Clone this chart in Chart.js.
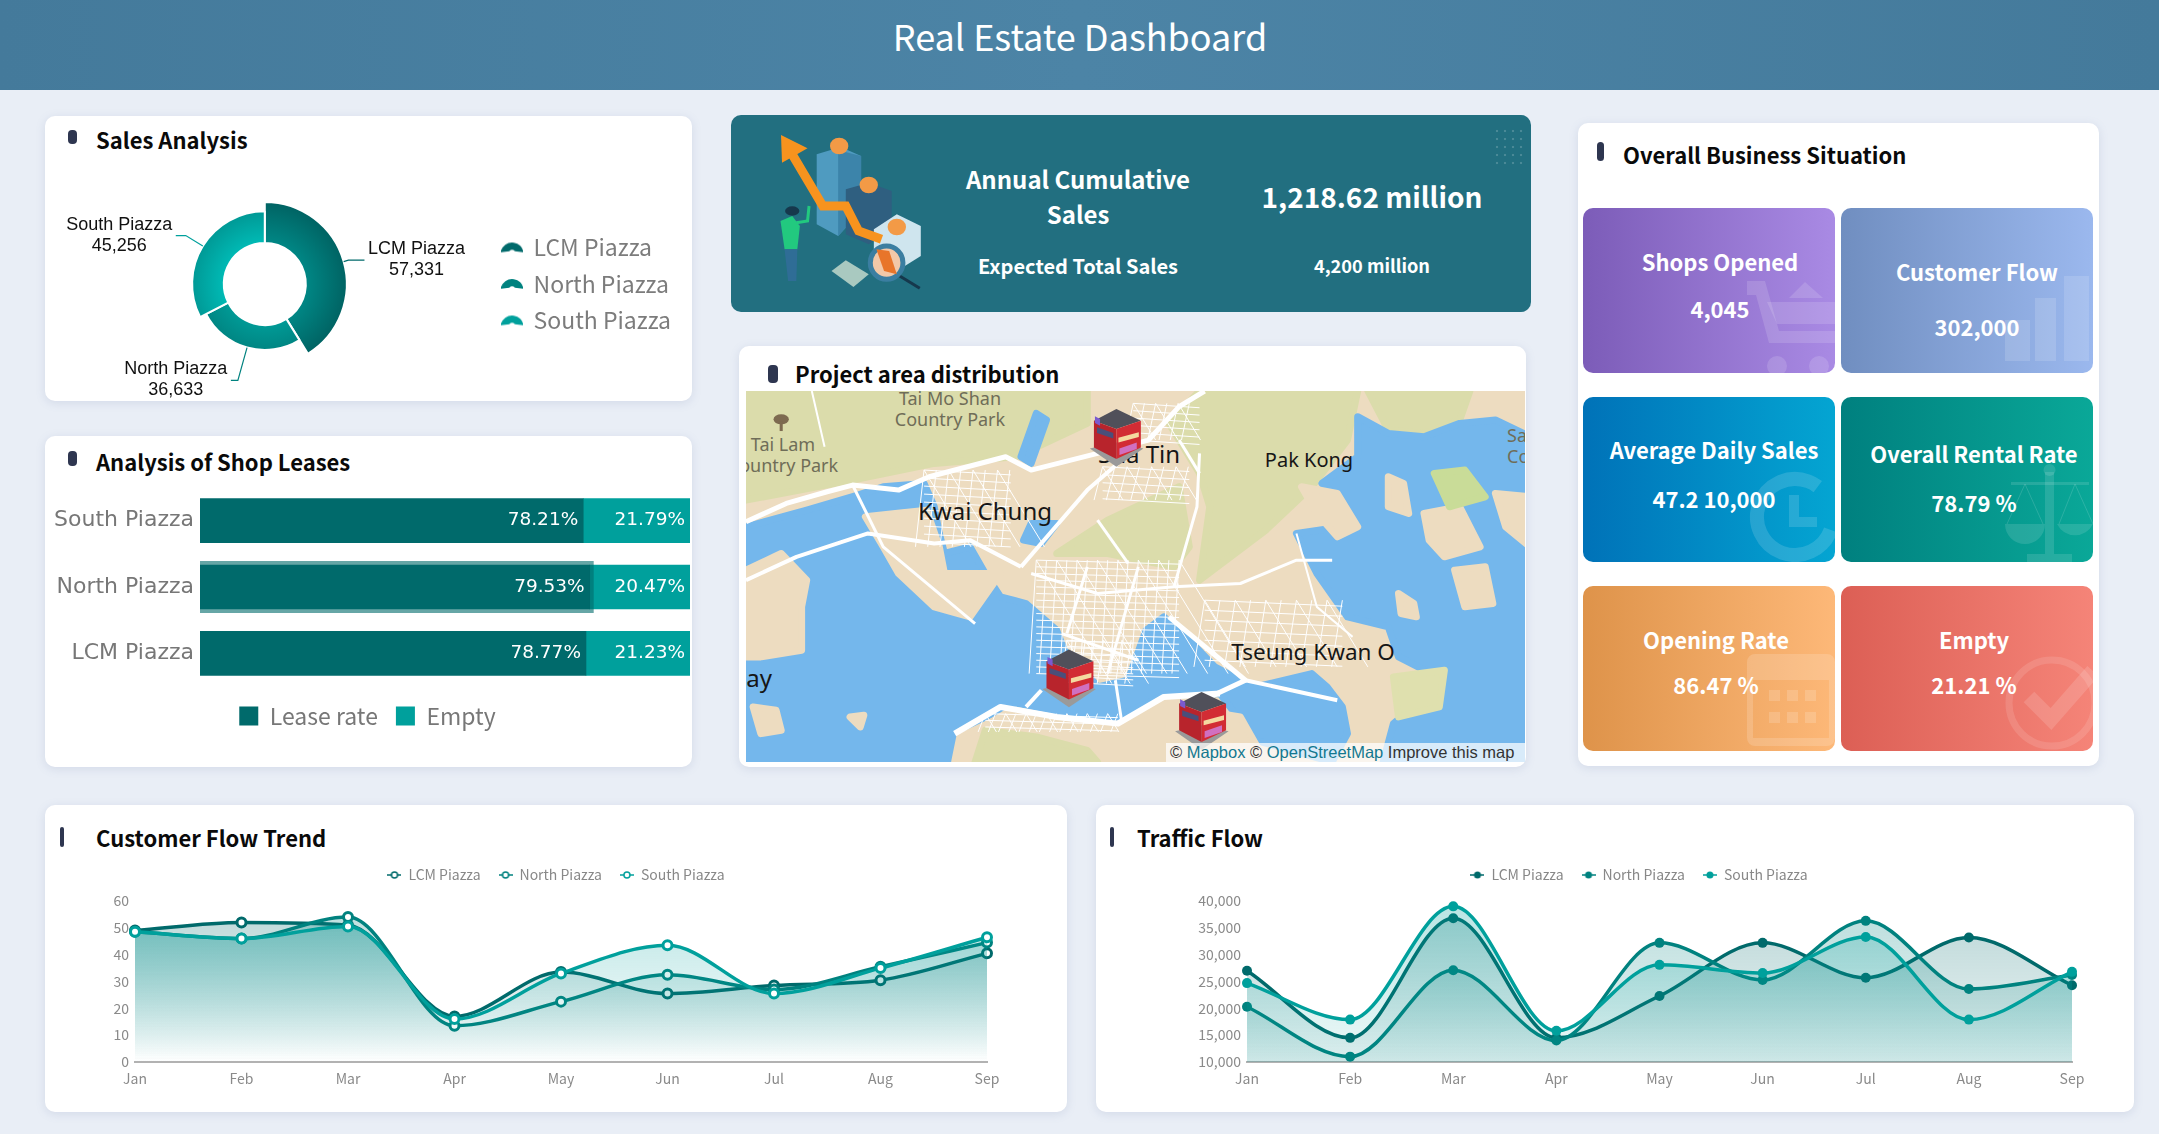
<!DOCTYPE html>
<html>
<head>
<meta charset="utf-8">
<title>Real Estate Dashboard</title>
<script src="https://cdn.jsdelivr.net/npm/chart.js@4"></script>
<style>
html, body { margin: 0; padding: 0; }
body { width: 2159px; height: 1134px; overflow: hidden; position: relative; background: #e9eef6; font-family: "Noto Sans CJK SC", "Noto Sans", sans-serif; }
.header { position: absolute; left: 0; top: 0; width: 2159px; height: 90px; background: linear-gradient(90deg, #447a9b, #4c84a6 50%, #447a9b); }
.card { position: absolute; background: #fff; border-radius: 10px; box-shadow: 0 2px 10px rgba(110,130,170,.18); }
.abs { position: absolute; }
.c { position: absolute; transform: translate(-50%, -50%); white-space: nowrap; }
.t { position: absolute; transform: translateY(-50%); white-space: nowrap; font-weight: 700; font-size: 22px; color: #0a0a0a; }
.bullet { position: absolute; background: #2e3650; border-radius: 4px; }
.banner { position: absolute; left: 731px; top: 115px; width: 800px; height: 197px; background: #226f80; border-radius: 10px; overflow: hidden; }
.dots { position: absolute; right: 6px; top: 12px; width: 32px; height: 40px; background-image: radial-gradient(rgba(255,255,255,.18) 1px, transparent 1.6px); background-size: 8px 8px; }
.w { color: #fff; font-weight: 700; }
.tile { position: absolute; width: 252px; height: 165px; border-radius: 10px; overflow: hidden; }
.tile svg { position: absolute; }
.map { position: absolute; left: 746px; top: 391px; width: 779px; height: 371px; overflow: hidden; background: #74b7ec; }
.map svg { position: absolute; left: 0; top: 0; width: 779px; height: 371px; }
.map .c { font-family: "Noto Sans", sans-serif; color: #161616; }
.park { color: #6f6d58 !important; font-size: 18px; }
.attrib { position: absolute; right: 0; bottom: 0; width: 359px; height: 19px; background: rgba(255,255,255,.72); font: 16.5px/19px "Liberation Sans", sans-serif; color: #333; white-space: nowrap; padding-left: 4px; box-sizing: border-box; }
.attrib span { color: #13788f; }
canvas { position: absolute; }
</style>
</head>
<body>
<div class="header"></div>
<div class="c" style="left:1080px;top:35px;font-size:36px;color:#fff;">Real Estate Dashboard</div>

<!-- sales -->
<div class="card" style="left:45px;top:116px;width:647px;height:285px;"></div>
<div class="bullet" style="left:68px;top:130px;width:9px;height:14px;"></div>
<div class="t" style="left:96px;top:139px;">Sales Analysis</div>
<canvas id="salesChart" width="647" height="285" style="left:41px;top:116px;"></canvas>

<!-- leases -->
<div class="card" style="left:45px;top:436px;width:647px;height:331px;"></div>
<div class="bullet" style="left:68px;top:451px;width:9px;height:15px;"></div>
<div class="t" style="left:96px;top:461px;">Analysis of Shop Leases</div>
<canvas id="leaseChart" width="647" height="331" style="left:45px;top:436px;"></canvas>

<!-- annual sales -->
<div class="banner">
  <svg class="abs" style="left:0;top:0;width:800px;height:197px;" viewBox="0 12 1568 591" preserveAspectRatio="none">
    <polygon points="168,130 215,108 255,135 255,300 210,375 168,340" fill="#4f9bc0"/>
    <polygon points="210,118 255,135 255,300 210,375" fill="#3c84aa"/>
    <polygon points="225,235 270,215 315,240 315,350 270,400 225,370" fill="#2f5f80"/>
    <polygon points="280,355 325,310 372,345 372,435 325,480 280,440" fill="#cfe5ee"/>
    <ellipse cx="212" cy="105" rx="18" ry="25" fill="#f39a46"/>
    <ellipse cx="270" cy="222" rx="18" ry="25" fill="#f39a46"/>
    <ellipse cx="325" cy="348" rx="18" ry="25" fill="#f39a46"/>
    <polyline points="120,130 180,285 225,285 250,360 295,385" fill="none" stroke="#f7931e" stroke-width="9" vector-effect="non-scaling-stroke"/>
    <polygon points="98,72 150,112 100,155" fill="#f7931e"/>
    <polygon points="97,330 120,315 135,345 130,415 105,415" fill="#22c97f"/>
    <polyline points="128,335 150,330 153,285" fill="none" stroke="#22c97f" stroke-width="3" vector-effect="non-scaling-stroke"/>
    <circle cx="120" cy="300" r="14" fill="#16384c"/>
    <polygon points="105,415 130,415 128,510 112,510" fill="#2f6d96"/>
    <polygon points="197,480 225,448 270,490 240,528" fill="#a9c9c0"/>
    <line x1="325" y1="490" x2="370" y2="532" stroke="#16384c" stroke-width="3" vector-effect="non-scaling-stroke"/>
    <ellipse cx="305" cy="455" rx="32" ry="50" fill="#f2c8a8" stroke="#3b7ea1" stroke-width="5" vector-effect="non-scaling-stroke"/>
    <polygon points="285,415 310,420 325,490 300,480" fill="#e8752a"/>
  </svg>
  <div class="dots"></div>
  <div class="c w" style="left:347px;top:63px;font-size:24px;">Annual Cumulative</div>
  <div class="c w" style="left:347px;top:98px;font-size:24px;">Sales</div>
  <div class="c w" style="left:347px;top:150px;font-size:20px;">Expected Total Sales</div>
  <div class="c w" style="left:641px;top:81px;font-size:28px;">1,218.62 million</div>
  <div class="c w" style="left:641px;top:150px;font-size:18.2px;">4,200 million</div>
</div>

<!-- map -->
<div class="card" style="left:739px;top:346px;width:787px;height:421px;"></div>
<div class="bullet" style="left:768px;top:365px;width:10px;height:18px;"></div>
<div class="t" style="left:795px;top:373px;">Project area distribution</div>
<div class="map">
  <svg id="mapBase" viewBox="31 153 1527 1112" preserveAspectRatio="none"></svg>
  <div class="c park" style="left:204px;top:7px;">Tai Mo Shan</div>
  <div class="c park" style="left:204px;top:28px;">Country Park</div>
  <div class="c park" style="left:37px;top:53px;">Tai Lam</div>
  <div class="c park" style="left:37px;top:74px;">Country Park</div>
  <div class="c" style="left:239px;top:119px;font-size:24px;">Kwai Chung</div>
  <div class="c" style="left:393px;top:62px;font-size:24px;">Sha Tin</div>
  <div class="c" style="left:563px;top:68px;font-size:20px;">Pak Kong</div>
  <div class="c" style="left:567px;top:260px;font-size:22.5px;">Tseung Kwan O</div>
  <div class="abs" style="right:753px;top:270px;font-size:24px;line-height:34px;font-family:'Noto Sans';color:#161616;">Bay</div>
  <div class="abs park" style="left:761px;top:34px;line-height:21px;font-family:'Noto Sans';">Sai<br>Co</div>
  <svg id="mapIcons" viewBox="31 153 1527 1112" preserveAspectRatio="none"></svg>
  <div class="attrib">© <span>Mapbox</span> © <span>OpenStreetMap</span> Improve this map</div>
</div>

<!-- business situation -->
<div class="card" style="left:1578px;top:123px;width:521px;height:643px;"></div>
<div class="bullet" style="left:1597px;top:142px;width:7px;height:19px;"></div>
<div class="t" style="left:1623px;top:154px;">Overall Business Situation</div>

<div class="tile" style="left:1583px;top:208px;background:linear-gradient(90deg,#7c5cb8,#a98ae4);">
  <svg style="right:0;bottom:0;" width="88" height="95" viewBox="0 0 88 95" fill="rgba(255,255,255,.14)">
    <path d="M0 3h18l14 50h56v12H22L9 17H0z"/><polygon points="20,24 88,24 88,46 30,46"/><polygon points="42,20 58,4 76,20"/><circle cx="30" cy="88" r="10"/><circle cx="72" cy="88" r="10"/>
  </svg>
</div>
<div class="c w" style="left:1720px;top:261px;font-size:22px;">Shops Opened</div>
<div class="c w" style="left:1720px;top:308px;font-size:22px;">4,045</div>

<div class="tile" style="left:1841px;top:208px;background:linear-gradient(90deg,#708ec0,#9bb8ee);">
  <svg style="right:4px;bottom:12px;" width="84" height="85" viewBox="0 0 84 85" fill="rgba(255,255,255,.14)">
    <rect x="0" y="44" width="25" height="41"/><rect x="30" y="22" width="21" height="63"/><rect x="59" y="0" width="25" height="85"/>
  </svg>
</div>
<div class="c w" style="left:1977px;top:271px;font-size:22px;">Customer Flow</div>
<div class="c w" style="left:1977px;top:326px;font-size:22px;">302,000</div>

<div class="tile" style="left:1583px;top:397px;background:linear-gradient(90deg,#0072b8,#04a5d2);">
  <svg style="right:0;bottom:0;" width="88" height="95" viewBox="0 0 88 95">
    <circle cx="48" cy="50" r="38" fill="none" stroke="rgba(255,255,255,.14)" stroke-width="14" stroke-dasharray="190 50" transform="rotate(20 48 50)"/>
    <path d="M42 28h10v22h18v10H42z" fill="rgba(255,255,255,.14)"/>
  </svg>
</div>
<div class="c w" style="left:1714px;top:449px;font-size:22px;">Average Daily Sales</div>
<div class="c w" style="left:1714px;top:498px;font-size:22px;">47.2 10,000</div>

<div class="tile" style="left:1841px;top:397px;background:linear-gradient(90deg,#00807f,#0aa898);">
  <svg style="right:0;bottom:0;" width="88" height="98" viewBox="0 0 88 98" fill="rgba(255,255,255,.12)">
    <rect x="40" y="8" width="9" height="82"/><circle cx="44.500" cy="6" r="6"/><rect x="6" y="18" width="78" height="3"/><rect x="22" y="90" width="45" height="8"/>
    <path d="M0 60a20 20 0 0 0 40 0zM52 60a20 20 0 0 0 36 0z"/>
    <path d="M20 20L2 60M20 20L38 60M70 20L54 60M70 20L88 60" stroke="rgba(255,255,255,.14)" fill="none"/>
  </svg>
</div>
<div class="c w" style="left:1974px;top:453px;font-size:22px;">Overall Rental Rate</div>
<div class="c w" style="left:1974px;top:502px;font-size:22px;">78.79 %</div>

<div class="tile" style="left:1583px;top:586px;background:linear-gradient(90deg,#de934a,#fdb878);">
  <svg style="right:0;bottom:5px;" width="88" height="92" viewBox="0 0 88 92" fill="rgba(255,255,255,.16)">
    <path d="M8 0h72a8 8 0 0 1 8 8v76a8 8 0 0 1-8 8H8a8 8 0 0 1-8-8V8a8 8 0 0 1 8-8zM6 26v58h76V26z" fill-rule="evenodd"/>
    <rect x="22" y="36" width="11" height="11"/><rect x="40" y="36" width="11" height="11"/><rect x="58" y="36" width="11" height="11"/><rect x="22" y="58" width="11" height="11"/><rect x="40" y="58" width="11" height="11"/><rect x="58" y="58" width="11" height="11"/>
  </svg>
</div>
<div class="c w" style="left:1716px;top:639px;font-size:22px;">Opening Rate</div>
<div class="c w" style="left:1716px;top:684px;font-size:22px;">86.47 %</div>

<div class="tile" style="left:1841px;top:586px;background:linear-gradient(90deg,#dc5f55,#f58478);">
  <svg style="right:0;bottom:0;" width="88" height="98" viewBox="0 0 88 98">
    <circle cx="47" cy="50" r="43" fill="none" stroke="rgba(255,255,255,.12)" stroke-width="7"/>
    <polyline points="24,44 46,66 88,18" fill="none" stroke="rgba(255,255,255,.14)" stroke-width="15"/>
  </svg>
</div>
<div class="c w" style="left:1974px;top:639px;font-size:22px;">Empty</div>
<div class="c w" style="left:1974px;top:684px;font-size:22px;">21.21 %</div>

<!-- trends -->
<div class="card" style="left:45px;top:805px;width:1022px;height:307px;"></div>
<div class="bullet" style="left:60px;top:827px;width:4px;height:20px;border-radius:2px;"></div>
<div class="t" style="left:96px;top:837px;">Customer Flow Trend</div>
<canvas id="customerChart" width="1022" height="308" style="left:45px;top:804px;"></canvas>

<div class="card" style="left:1096px;top:805px;width:1038px;height:307px;"></div>
<div class="bullet" style="left:1110px;top:827px;width:4px;height:20px;border-radius:2px;"></div>
<div class="t" style="left:1137px;top:837px;">Traffic Flow</div>
<canvas id="trafficChart" width="1038" height="308" style="left:1096px;top:804px;"></canvas>

<script>
const piazzas = ["LCM Piazza", "North Piazza", "South Piazza"];
const salesValues = [57331, 36633, 45256];

const leaseCategories = ["South Piazza", "North Piazza", "LCM Piazza"];
const leaseRate = [78.21, 79.53, 78.77];
const emptyRate = [21.79, 20.47, 21.23];

const months = ["Jan", "Feb", "Mar", "Apr", "May", "Jun", "Jul", "Aug", "Sep"];

const customerLcm = [49, 52, 51, 17, 33.5, 25.5, 28.5, 30.5, 40.5];
const customerNorth = [48.5, 46, 54, 13.5, 22.5, 32.5, 27, 35.5, 44.5];
const customerSouth = [48.5, 46, 50.5, 16, 33, 43.5, 25.5, 35, 46.5];

const trafficLcm = [27000, 14500, 36800, 14500, 22300, 32200, 25700, 33200, 24300];
const trafficNorth = [20300, 11000, 27100, 14000, 32200, 25300, 36300, 23600, 26200];
const trafficSouth = [24700, 17900, 39000, 15800, 28100, 26600, 33300, 17900, 26800];

const colors = ["#006a6b", "#00827f", "#00a09c"];
const uiFont = '"Noto Sans CJK SC", "Noto Sans", sans-serif';

Chart.defaults.animation = false;
Chart.defaults.responsive = false;
Chart.defaults.plugins.tooltip.enabled = false;

function rgba(hex, a) {
    let n = parseInt(hex.slice(1), 16);
    return "rgba(" + (n >> 16) + "," + ((n >> 8) & 255) + "," + (n & 255) + "," + a + ")";
}

function makeIcon(w, h, draw) {
    let c = document.createElement("canvas");
    c.width = w;
    c.height = h;
    draw(c.getContext("2d"));
    return c;
}

// fan shaped swatch for the donut legend
function fanIcon(color) {
    return makeIcon(22, 12, g => {
        g.fillStyle = color;
        g.beginPath();
        g.arc(11, 12.5, 11.5, Math.PI * 1.05, Math.PI * 1.95);
        g.arc(11, 12.5, 4, Math.PI * 1.75, Math.PI * 1.25, true);
        g.closePath();
        g.fill();
    });
}

// line with a dot through it, like the trend legends
function lineIcon(color, hollow) {
    return makeIcon(14, 10, g => {
        g.strokeStyle = color;
        g.lineWidth = 1.5;
        g.beginPath();
        g.moveTo(0, 5);
        g.lineTo(14, 5);
        g.stroke();
        g.beginPath();
        g.arc(7, 5, hollow ? 3 : 3.5, 0, Math.PI * 2);
        g.fillStyle = hollow ? "#fff" : color;
        g.fill();
        if (hollow) g.stroke();
    });
}

// Sales donut: radius follows the value, labels sit on leader lines
const salesMin = Math.min(...salesValues);
const salesMax = Math.max(...salesValues);
const leaderLengths = [5, 34, 20];
const elbowLengths = [16, 7, 10];
const donutColors = [["#008785", "#006363"], ["#009a96", "#007876"], ["#00bab5", "#008f8c"]];

const roseAndLabels = {
    id: "roseAndLabels",
    beforeDatasetsDraw(chart) {
        chart.getDatasetMeta(0).data.forEach((arc, i) => {
            arc.outerRadius = 66 + (salesValues[i] - salesMin) / (salesMax - salesMin) * 16;
        });
    },
    afterDatasetsDraw(chart) {
        let ctx = chart.ctx;
        chart.getDatasetMeta(0).data.forEach((arc, i) => {
            let mid = (arc.startAngle + arc.endAngle) / 2;
            let cos = Math.cos(mid), sin = Math.sin(mid);
            let x0 = arc.x + cos * arc.outerRadius, y0 = arc.y + sin * arc.outerRadius;
            let x1 = x0 + cos * leaderLengths[i], y1 = y0 + sin * leaderLengths[i];
            let dir = cos >= 0 ? 1 : -1;
            let x2 = x1 + dir * elbowLengths[i];
            ctx.save();
            ctx.strokeStyle = colors[i];
            ctx.lineWidth = 1.2;
            ctx.beginPath();
            ctx.moveTo(x0, y0);
            ctx.lineTo(x1, y1);
            ctx.lineTo(x2, y1);
            ctx.stroke();
            ctx.fillStyle = "#111";
            ctx.font = '18px "Liberation Sans"';
            ctx.textAlign = "center";
            ctx.textBaseline = "middle";
            let w = ctx.measureText(piazzas[i]).width;
            let cx = x2 + dir * (w / 2 + 3.5);
            ctx.fillText(piazzas[i], cx, y1 - 11);
            ctx.fillText(salesValues[i].toLocaleString("en-US"), cx, y1 + 10);
            ctx.restore();
        });
    }
};

new Chart(document.getElementById("salesChart"), {
    type: "doughnut",
    data: {
        labels: piazzas,
        datasets: [{
            data: salesValues,
            borderColor: "#fff",
            borderWidth: 2,
            backgroundColor(c) {
                let area = c.chart.chartArea;
                if (!area) return colors[c.dataIndex];
                let cx = (area.left + area.right) / 2, cy = (area.top + area.bottom) / 2;
                let g = c.chart.ctx.createRadialGradient(cx, cy, 41, cx, cy, 82);
                g.addColorStop(0, donutColors[c.dataIndex][0]);
                g.addColorStop(1, donutColors[c.dataIndex][1]);
                return g;
            }
        }]
    },
    options: {
        radius: 82,
        cutout: "50%",
        layout: { padding: { top: 51, right: 7 } },
        plugins: {
            legend: {
                position: "right",
                labels: {
                    color: "#7c7c7c",
                    font: { family: uiFont, size: 23 },
                    usePointStyle: true,
                    pointStyleWidth: 20,
                    padding: 13.5,
                    generateLabels(chart) {
                        let items = Chart.overrides.doughnut.plugins.legend.labels.generateLabels(chart);
                        items.forEach((it, i) => { it.pointStyle = fanIcon(colors[i]); });
                        return items;
                    }
                }
            }
        }
    },
    plugins: [roseAndLabels]
});

// Stacked lease bars
const barLabels = {
    id: "barLabels",
    afterDatasetsDraw(chart) {
        let ctx = chart.ctx;
        // the north bar keeps its highlighted outline
        let lit = chart.getDatasetMeta(0).data[1];
        ctx.save();
        ctx.strokeStyle = "rgba(0,106,107,.6)";
        ctx.lineWidth = 4;
        ctx.beginPath();
        ctx.moveTo(lit.base, lit.y - lit.height / 2 - 2);
        ctx.lineTo(lit.x + 2, lit.y - lit.height / 2 - 2);
        ctx.lineTo(lit.x + 2, lit.y + lit.height / 2 + 2);
        ctx.lineTo(lit.base, lit.y + lit.height / 2 + 2);
        ctx.stroke();
        ctx.fillStyle = "#fff";
        ctx.font = '18.5px "DejaVu Sans"';
        ctx.textAlign = "right";
        ctx.textBaseline = "middle";
        chart.data.datasets.forEach((ds, d) => {
            chart.getDatasetMeta(d).data.forEach((bar, i) => {
                ctx.fillText(ds.data[i].toFixed(2) + "%", bar.x - 5, bar.y);
            });
        });
        ctx.restore();
    }
};

new Chart(document.getElementById("leaseChart"), {
    type: "bar",
    data: {
        labels: leaseCategories,
        datasets: [
            { label: "Lease rate", data: leaseRate, backgroundColor: colors[0], barThickness: 44 },
            { label: "Empty", data: emptyRate, backgroundColor: colors[2], barThickness: 44 }
        ]
    },
    options: {
        indexAxis: "y",
        layout: { padding: { top: 51.5, right: 2, bottom: 29.5 } },
        scales: {
            x: { stacked: true, min: 0, max: 100, display: false },
            y: {
                stacked: true,
                grid: { display: false, drawTicks: false },
                border: { display: false },
                ticks: { color: "#777", font: { family: "DejaVu Sans", size: 22 }, padding: 6 },
                afterFit(scale) { scale.width = 155; scale.paddingTop = 0; scale.paddingBottom = 0; }
            }
        },
        plugins: {
            legend: {
                position: "bottom",
                labels: {
                    color: "#777",
                    font: { family: uiFont, size: 23 },
                    boxWidth: 19,
                    boxHeight: 19,
                    padding: 18
                }
            }
        }
    },
    plugins: [barLabels]
});

// Trend charts
const tallerLegend = {
    id: "tallerLegend",
    beforeInit(chart) {
        let fit = chart.legend.fit;
        chart.legend.fit = function () {
            fit.call(this);
            this.height += 9;
        };
    }
};

function trendChart(id, series, yOpts, hollow, layoutBox, tickFormat) {
    new Chart(document.getElementById(id), {
        type: "line",
        data: {
            labels: months,
            datasets: series.map((values, i) => ({
                label: piazzas[i],
                data: values,
                order: 3 - i,
                clip: false,
                fill: "origin",
                cubicInterpolationMode: "monotone",
                borderColor: colors[i],
                borderWidth: 3.5,
                pointRadius: hollow ? 4.5 : 5,
                pointBorderWidth: hollow ? 3 : 0,
                pointBackgroundColor: hollow ? "#fff" : colors[i],
                pointBorderColor: colors[i],
                backgroundColor(c) {
                    let area = c.chart.chartArea;
                    if (!area) return "transparent";
                    let h = area.bottom - area.top;
                    let g = c.chart.ctx.createLinearGradient(0, area.top, 0, area.bottom + h * yOpts.fadeBelow);
                    g.addColorStop(0, rgba(colors[i], 0.28));
                    g.addColorStop(1, rgba(colors[i], 0));
                    return g;
                }
            }))
        },
        options: {
            layout: { padding: { top: 46, left: layoutBox.left } },
            scales: {
                x: {
                    grid: { display: false, drawTicks: false },
                    border: { display: true, color: "#b2b2b2", width: 2 },
                    ticks: { color: "#8a8a8a", font: { family: uiFont, size: 14 }, padding: 8, maxRotation: 0 },
                    afterFit(scale) { scale.height = 50; scale.paddingLeft = 0; scale.paddingRight = layoutBox.right; }
                },
                y: {
                    min: yOpts.min,
                    max: yOpts.max,
                    grid: { display: false, drawTicks: false },
                    border: { display: false },
                    ticks: {
                        stepSize: yOpts.step,
                        color: "#8a8a8a",
                        font: { family: uiFont, size: 14 },
                        padding: 6,
                        callback: tickFormat
                    },
                    afterFit(scale) { scale.width = layoutBox.axis; scale.paddingTop = 0; scale.paddingBottom = 0; }
                }
            },
            plugins: {
                legend: {
                    position: "top",
                    labels: {
                        color: "#888",
                        font: { family: uiFont, size: 14 },
                        usePointStyle: true,
                        pointStyleWidth: 14,
                        padding: 18,
                        sort: (a, b) => a.datasetIndex - b.datasetIndex,
                        generateLabels(chart) {
                            let items = Chart.defaults.plugins.legend.labels.generateLabels(chart);
                            items.forEach(it => { it.pointStyle = lineIcon(colors[it.datasetIndex], hollow); });
                            return items;
                        }
                    }
                }
            }
        },
        plugins: [tallerLegend]
    });
}

trendChart("customerChart", [customerLcm, customerNorth, customerSouth],
    { min: 0, max: 60, step: 10, fadeBelow: 0 }, true, { left: 0, axis: 90, right: 80 }, v => v);
trendChart("trafficChart", [trafficLcm, trafficNorth, trafficSouth],
    { min: 10000, max: 40000, step: 5000, fadeBelow: 0.33 }, false, { left: 48, axis: 103, right: 62 }, v => v.toLocaleString("en-US"));

// Map backdrop, roughly traced; the viewBox uses the traced image's units
function poly(points, fill) {
    return '<polygon points="' + points + '" fill="' + fill + '" stroke="' + fill + '" stroke-width="7" stroke-linejoin="round" vector-effect="non-scaling-stroke"/>';
}
function road(d, w) {
    return '<path d="' + d + '" fill="none" stroke="#fff" stroke-width="' + w + '" stroke-linejoin="round" vector-effect="non-scaling-stroke"/>';
}
function streets(x0, y0, x1, y1, step) {
    let d = "";
    for (let y = y0; y <= y1; y += step) d += "M" + x0 + "," + y + "L" + x1 + "," + (y + step * 0.6);
    for (let x = x0; x <= x1; x += step) d += "M" + x + "," + y0 + "L" + (x - step * 0.7) + "," + y1;
    for (let x = x0; x <= x1; x += step * 2) d += "M" + x + "," + y0 + "L" + (x + (y1 - y0) * 0.4) + "," + y1;
    return road(d, 1);
}

const land = "#eddcc0", green = "#dbdcab", water = "#74b7ec";
let mapSvg = '<rect x="31" y="153" width="1527" height="1112" fill="' + land + '"/>';
mapSvg += poly("220,153 700,153 700,250 560,350 400,370 240,420 31,480 31,153", green);
mapSvg += poly("640,640 740,540 880,440 900,620 870,680 740,640", green);
mapSvg += poly("920,153 1230,153 1210,300 1140,440 1050,570 920,720 940,500 920,400 860,250", green);
mapSvg += poly("1250,153 1450,153 1430,240 1360,280 1290,270", green);
mapSvg += poly("31,560 150,510 250,465 300,440 380,430 400,500 410,580 420,640 470,620 500,700 530,770 580,790 640,870 655,930 700,1000 720,1040 780,1020 815,870 850,830 900,900 950,980 1000,1020 1030,1040 1140,1000 1170,1040 1200,1100 1210,1180 1180,1265 1030,1200 960,1060 850,1065 760,1130 640,1150 540,1095 480,1150 440,1265 31,1265", water);
mapSvg += poly("1230,230 1290,280 1360,290 1430,250 1500,240 1568,290 1568,1265 1280,1265 1300,1150 1400,1020 1310,950 1290,860 1210,830 1150,700 1110,580 1200,560 1200,480 1160,430 1230,350", water);
mapSvg += poly("265,530 385,510 410,620 420,700 530,700 470,830 400,800 330,700 300,620", land);
mapSvg += poly("31,690 100,640 150,720 140,800 140,930 60,950 31,950", land);
mapSvg += poly("1360,520 1430,500 1470,620 1400,650 1370,600", land);
mapSvg += poly("1420,690 1480,680 1495,790 1440,800", land);
mapSvg += poly("1310,760 1340,790 1345,830 1315,820", land);
mapSvg += poly("1290,410 1320,430 1330,520 1290,500", land);
mapSvg += poly("1380,400 1440,390 1480,470 1410,500", "#c9dc98");
mapSvg += poly("1500,460 1568,470 1568,620 1520,560", land);
mapSvg += poly("1120,440 1190,460 1230,560 1190,590 1150,520", land);
mapSvg += poly("45,1100 90,1110 100,1170 60,1180", land);
mapSvg += poly("235,1130 262,1125 255,1160", land);
mapSvg += poly("1300,1010 1400,990 1390,1100 1310,1130", "#dfe0ae");
mapSvg += poly("600,220 620,240 590,370 570,350", water);
mapSvg += poly("590,550 640,550 610,610 575,600", water);
mapSvg += poly("450,1190 560,1110 760,1170 840,1090 1000,1130 1050,1265 440,1265", land);
mapSvg += poly("500,1170 600,1190 700,1230 720,1265 480,1265", green);
mapSvg += streets(600, 660, 880, 1000, 20);
mapSvg += streets(660, 900, 790, 1030, 18);
mapSvg += streets(380, 390, 550, 620, 24);
mapSvg += streets(790, 190, 920, 300, 22);
mapSvg += streets(730, 380, 900, 480, 24);
mapSvg += streets(930, 780, 1200, 980, 30);
mapSvg += streets(500, 1120, 760, 1175, 20);
mapSvg += road("M31,545L110,490L190,455L240,435L330,450L390,410L540,350L590,390L720,340L820,300L880,200L930,153", 5);
mapSvg += road("M240,435L300,620L480,850", 3);
mapSvg += road("M31,720L130,650L270,580L400,610L470,600L570,680", 4);
mapSvg += road("M160,153L185,320", 2);
mapSvg += road("M570,680L700,450L760,370", 4);
mapSvg += road("M720,540L780,670", 3);
mapSvg += road("M920,340L915,500L870,740", 3);
mapSvg += road("M880,300L920,400", 3);
mapSvg += road("M870,740L1000,730L1110,660L1180,660", 3);
mapSvg += road("M860,830L1010,1020L940,1070", 5);
mapSvg += road("M610,1050L580,1100", 4);
mapSvg += road("M755,1020L768,1150", 3);
mapSvg += road("M440,1180L530,1100L640,1130L760,1150L850,1070L960,1060", 6);
mapSvg += road("M1010,1020L1100,1050L1190,1080", 4);
mapSvg += road("M1110,580L1150,800L1220,890", 2);
mapSvg += road("M590,700L720,760L870,740M650,880L800,960M700,680L660,880M800,680L740,1000", 3);
mapSvg += '<circle cx="100" cy="238" r="15" fill="#7d6a50"/><rect x="97" y="245" width="6" height="28" fill="#7d6a50"/>';
document.getElementById("mapBase").innerHTML = mapSvg;

function building(x, y) {
    return '<g transform="translate(' + x + ',' + y + ')">' +
        '<polygon points="0,118 52,173 105,118 52,100" fill="#9a9a9a"/>' +
        '<polygon points="52,0 100,35 52,60 8,35" fill="#50505a"/>' +
        '<polygon points="8,35 52,60 52,150 8,115" fill="#b8242c"/>' +
        '<polygon points="52,60 100,35 100,115 52,150" fill="#d22c34"/>' +
        '<polygon points="14,55 46,72 46,88 14,72" fill="#4a4f7a"/>' +
        '<polygon points="56,86 96,70 96,84 56,100" fill="#f4d9a0"/>' +
        '<polygon points="58,118 92,100 92,120 58,138" fill="#d070c0"/>' +
        '<polygon points="10,22 20,30 20,50 10,42" fill="#7a5ad0"/>' +
        '</g>';
}
document.getElementById("mapIcons").innerHTML = building(705, 207) + building(612, 928) + building(872, 1055);
</script>
</body>
</html>
